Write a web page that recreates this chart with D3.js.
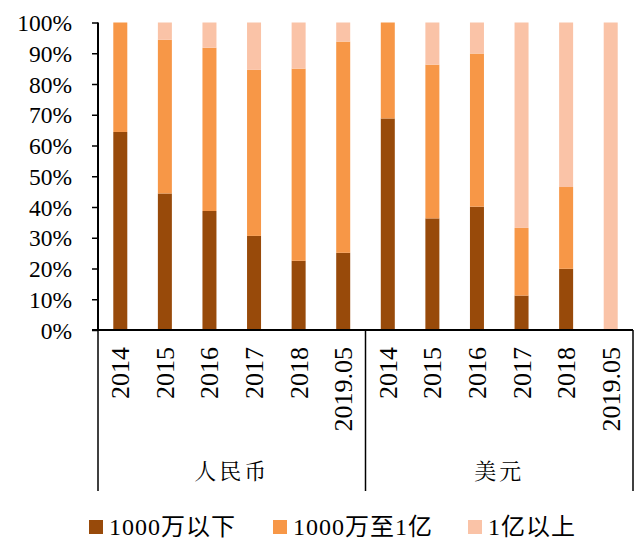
<!DOCTYPE html>
<html>
<head>
<meta charset="utf-8">
<script src="https://cdn.jsdelivr.net/npm/d3@7"></script>
<style>
  body { margin: 0; padding: 0; background: #fff; }
  svg { display: block; }
</style>
</head>
<body>
<svg id="chart" width="634" height="542"></svg>
<script>
// data (percent of each bar)
const groups = ["人民币", "美元"];
const years = ["2014", "2015", "2016", "2017", "2018", "2019.05"];
const seriesNames = ["1000万以下", "1000万至1亿", "1亿以上"];
const rmbLow  = [64.4, 44.4, 38.7, 30.6, 22.5, 25.1];
const rmbMid  = [35.6, 50.0, 53.1, 54.0, 62.5, 68.7];
const rmbHigh = [0.0, 5.6, 8.2, 15.4, 15.0, 6.2];
const usdLow  = [68.8, 36.3, 40.1, 11.2, 19.9, 0.0];
const usdMid  = [31.2, 50.0, 49.8, 22.0, 26.6, 0.0];
const usdHigh = [0.0, 13.7, 10.1, 66.8, 53.5, 100.0];
const yTicks = [0, 10, 20, 30, 40, 50, 60, 70, 80, 90, 100];

const colors = ["#984a0a", "#f79747", "#fac3a7"];

// build rows for stacking
let rows = [];
years.forEach((y, i) => rows.push({ key: "rmb-" + y, year: y, group: 0, s0: rmbLow[i], s1: rmbMid[i], s2: rmbHigh[i] }));
years.forEach((y, i) => rows.push({ key: "usd-" + y, year: y, group: 1, s0: usdLow[i], s1: usdMid[i], s2: usdHigh[i] }));

const svg = d3.select("#chart");
const plotL = 98, plotR = 633, plotT = 22.5, plotB = 330;
const serif = "'Liberation Serif', 'Times New Roman', serif";

const x = d3.scaleBand()
    .domain(rows.map(d => d.key))
    .range([plotL, plotR])
    .paddingInner(0.686)
    .paddingOuter(0.343);

const y = d3.scaleLinear()
    .domain([0, 100])
    .range([plotB, plotT]);

const stack = d3.stack().keys(["s0", "s1", "s2"]);
const layers = stack(rows);

svg.selectAll(".layer")
    .data(layers)
    .enter()
    .append("g")
    .attr("class", "layer")
    .attr("fill", (d, i) => colors[i])
    .selectAll("rect")
    .data(d => d)
    .enter()
    .append("rect")
    .attr("x", d => x(d.data.key))
    .attr("width", x.bandwidth())
    .attr("y", d => y(d[1]))
    .attr("height", d => Math.max(0, y(d[0]) - y(d[1])));

// y axis
const yAxis = d3.axisLeft(y)
    .tickValues(yTicks)
    .tickFormat(d => d + "%")
    .tickSize(6)
    .tickPadding(20);

const gy = svg.append("g")
    .attr("transform", `translate(${plotL},0)`)
    .call(yAxis);
gy.select(".domain").attr("stroke", "#000").attr("stroke-width", 2)
    .attr("d", `M-6,${plotB}H0V${plotT}`);
gy.selectAll(".tick line").attr("stroke", "#000").attr("stroke-width", 1.5);
gy.selectAll(".tick text")
    .style("font-family", serif)
    .style("font-size", "23.5px")
    .attr("fill", "#000")
    .attr("dy", "0.34em");

// x axis baseline
svg.append("line")
    .attr("x1", plotL - 6).attr("x2", plotR)
    .attr("y1", plotB).attr("y2", plotB)
    .attr("stroke", "#000").attr("stroke-width", 2);

// group separators
const sepBottom = 491;
const midSep = (x(rows[5].key) + x.bandwidth() + x(rows[6].key)) / 2;
[plotL, midSep, plotR].forEach(sx => {
    svg.append("line")
        .attr("x1", sx).attr("x2", sx)
        .attr("y1", plotB).attr("y2", sepBottom)
        .attr("stroke", "#000").attr("stroke-width", 1.5);
});

// year labels (rotated)
svg.append("g")
    .selectAll("text")
    .data(rows)
    .enter()
    .append("text")
    .attr("transform", d => `translate(${x(d.key) + x.bandwidth() / 2 + 9},347) rotate(-90)`)
    .attr("text-anchor", "end")
    .style("font-family", serif)
    .style("font-size", "26px")
    .attr("fill", "#000")
    .text(d => d.year);

// group labels
const groupCenters = groups.map((g, gi) => {
    const keys = rows.filter(r => r.group === gi).map(r => r.key);
    return (x(keys[0]) + x(keys[keys.length - 1]) + x.bandwidth()) / 2;
});
svg.append("g")
    .selectAll("text")
    .data(groups)
    .enter()
    .append("text")
    .attr("x", (d, i) => groupCenters[i])
    .attr("y", 479)
    .attr("text-anchor", "middle")
    .style("font-family", "'Noto Serif CJK SC', 'Noto Sans CJK SC', serif")
    .style("font-size", "22px")
    .style("letter-spacing", "3px")
    .attr("fill", "#000")
    .text(d => d);

// legend
const legendX = [89, 273, 468];
const lg = svg.append("g")
    .selectAll("g")
    .data(seriesNames)
    .enter()
    .append("g")
    .attr("transform", (d, i) => `translate(${legendX[i]},520)`);
lg.append("rect")
    .attr("width", 14).attr("height", 14)
    .attr("fill", (d, i) => colors[i]);
lg.append("text")
    .attr("x", 20)
    .attr("y", 15)
    .style("font-family", "'Liberation Serif', 'Noto Sans CJK SC', serif")
    .style("font-size", "24px")
    .style("letter-spacing", "1px")
    .attr("fill", "#000")
    .text(d => d);
</script>
</body>
</html>
